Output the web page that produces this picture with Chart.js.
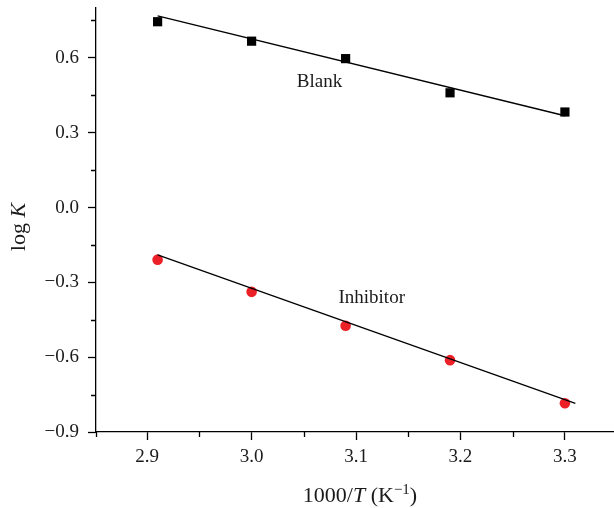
<!DOCTYPE html>
<html lang="en">
<head>
<meta charset="UTF-8">
<title>log K vs 1000/T</title>
<script src="https://cdn.jsdelivr.net/npm/chart.js"></script>
<style>
  html, body { margin: 0; padding: 0; background: #fff; }
  #wrap { width: 614px; height: 508px; }
</style>
</head>
<body>
<div id="wrap"><canvas id="arrhenius"></canvas></div>
<script>
// measured points (x = 1000/T, y = log K)
const invT = [2.91, 3.00, 3.09, 3.19, 3.30];
const blankLogK = [0.745, 0.667, 0.597, 0.460, 0.383];
const inhibitorLogK = [-0.209, -0.338, -0.474, -0.612, -0.785];

// linear fits, given by their end points
const blankFitX = [2.91, 3.30];
const blankFitY = [0.768, 0.368];
const inhibitorFitX = [2.91, 3.31];
const inhibitorFitY = [-0.190, -0.785];

// axis ticks
const xTicks = [2.9, 3.0, 3.1, 3.2, 3.3];
const xMinor = [2.85, 2.95, 3.05, 3.15, 3.25];
const yTicks = [-0.9, -0.6, -0.3, 0.0, 0.3, 0.6];
const yMinor = [-0.75, -0.45, -0.15, 0.15, 0.45, 0.75];

// curve labels placed in data space
const curveLabels = [
  { text: 'Blank', x: 3.065, y: 0.504 },
  { text: 'Inhibitor', x: 3.115, y: -0.361 }
];

const SERIF = '"Liberation Serif", "DejaVu Serif", serif';
const FS = 19;   // tick labels, curve labels
const TS = 22;   // axis titles

const pts = (xs, ys) => xs.map((x, i) => ({ x: x, y: ys[i] }));
const fmt = v => v.toFixed(1).replace('-', '\u2212');
const noPad = s => { s.paddingTop = 0; s.paddingBottom = 0; s.paddingLeft = 0; s.paddingRight = 0; };

// minor ticks, curve labels and the axis titles (mixed italic/superscript)
const extras = {
  id: 'extras',
  afterDraw(chart) {
    const ctx = chart.ctx;
    const xs = chart.scales.x, ys = chart.scales.y;
    const area = chart.chartArea;
    ctx.save();
    ctx.strokeStyle = '#000';
    ctx.lineWidth = 1.3;
    ctx.beginPath();
    xMinor.forEach(v => {
      const px = Math.max(Math.round(xs.getPixelForValue(v)) + 0.5, area.left + 0.5);
      ctx.moveTo(px, area.bottom);
      ctx.lineTo(px, area.bottom + 5);
    });
    yMinor.forEach(v => {
      const py = Math.round(ys.getPixelForValue(v)) + 0.5;
      ctx.moveTo(area.left, py);
      ctx.lineTo(area.left - 5, py);
    });
    ctx.stroke();

    ctx.fillStyle = '#1a1a1a';
    ctx.font = FS + 'px ' + SERIF;
    ctx.textAlign = 'center';
    ctx.textBaseline = 'middle';
    curveLabels.forEach(l => {
      ctx.fillText(l.text, xs.getPixelForValue(l.x), ys.getPixelForValue(l.y));
    });

    // x title: 1000/T (K^-1)
    const parts = [
      { t: '1000/', f: TS + 'px ' + SERIF, dy: 0 },
      { t: 'T', f: 'italic ' + TS + 'px ' + SERIF, dy: 0 },
      { t: ' (K', f: TS + 'px ' + SERIF, dy: 0 },
      { t: '\u22121', f: '15px ' + SERIF, dy: -8 },
      { t: ')', f: TS + 'px ' + SERIF, dy: 0 }
    ];
    let total = 0;
    parts.forEach(p => { ctx.font = p.f; p.w = ctx.measureText(p.t).width; total += p.w; });
    let cx = 360 - total / 2;
    const by = 502;
    ctx.textAlign = 'left';
    ctx.textBaseline = 'alphabetic';
    parts.forEach(p => { ctx.font = p.f; ctx.fillText(p.t, cx, by + p.dy); cx += p.w; });

    // y title: log K
    ctx.translate(25, 227);
    ctx.rotate(-Math.PI / 2);
    const yParts = [
      { t: 'log ', f: TS + 'px ' + SERIF },
      { t: 'K', f: 'italic ' + TS + 'px ' + SERIF }
    ];
    let yt = 0;
    yParts.forEach(p => { ctx.font = p.f; p.w = ctx.measureText(p.t).width; yt += p.w; });
    let ox = -yt / 2;
    yParts.forEach(p => { ctx.font = p.f; ctx.fillText(p.t, ox, 0); ox += p.w; });
    ctx.restore();
  }
};

new Chart(document.getElementById('arrhenius'), {
  type: 'scatter',
  data: {
    datasets: [
      { label: 'Blank fit', data: pts(blankFitX, blankFitY), showLine: true, borderColor: '#000', borderWidth: 1.3, pointRadius: 0, fill: false },
      { label: 'Inhibitor fit', data: pts(inhibitorFitX, inhibitorFitY), showLine: true, borderColor: '#000', borderWidth: 1.3, pointRadius: 0, fill: false },
      { label: 'Blank', data: pts(invT, blankLogK), pointStyle: 'rect', pointRadius: 6.5, backgroundColor: '#000', borderColor: '#000', borderWidth: 0 },
      { label: 'Inhibitor', data: pts(invT, inhibitorLogK), pointStyle: 'circle', pointRadius: 5.3, backgroundColor: '#ec2027', borderColor: '#ec2027', borderWidth: 0 }
    ]
  },
  options: {
    responsive: true,
    maintainAspectRatio: false,
    animation: false,
    layout: { autoPadding: false, padding: { top: 8, right: 0, left: 0, bottom: 0 } },
    plugins: { legend: { display: false }, tooltip: { enabled: false } },
    scales: {
      x: {
        type: 'linear', min: 2.851, max: 3.347,
        afterBuildTicks: s => { s.ticks = xTicks.map(v => ({ value: v })); },
        afterFit: s => { s.height = 76; noPad(s); },
        grid: { drawOnChartArea: false, drawTicks: true, tickLength: 8, tickColor: '#000', tickWidth: 1.3 },
        border: { color: '#000', width: 1.3 },
        ticks: { color: '#1a1a1a', font: { family: SERIF, size: FS }, padding: 6, callback: v => fmt(v), maxRotation: 0 }
      },
      y: {
        type: 'linear', min: -0.9, max: 0.8,
        afterBuildTicks: s => { s.ticks = yTicks.map(v => ({ value: v })); },
        afterFit: s => { s.width = 96; noPad(s); },
        grid: { drawOnChartArea: false, drawTicks: true, tickLength: 8, tickColor: '#000', tickWidth: 1.3 },
        border: { color: '#000', width: 1.3 },
        ticks: { color: '#1a1a1a', font: { family: SERIF, size: FS }, padding: 9, callback: v => fmt(v) }
      }
    }
  },
  plugins: [extras]
});
</script>
</body>
</html>
